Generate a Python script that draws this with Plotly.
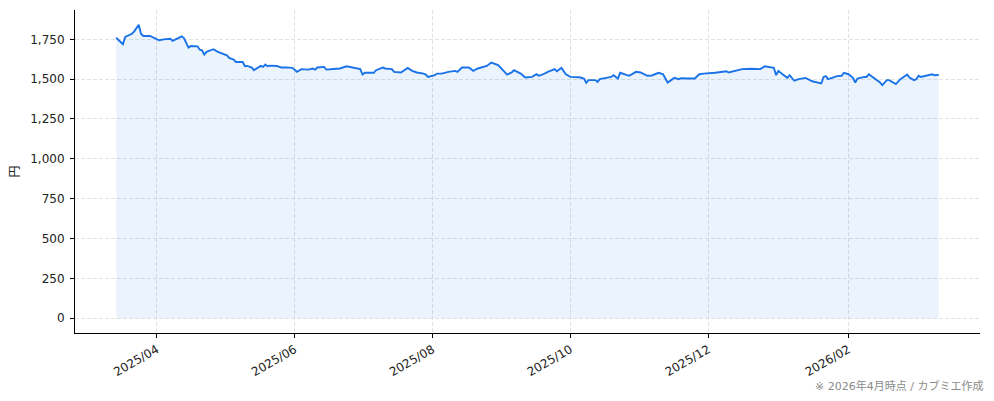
import plotly.graph_objects as go

# 株価推移（終値, 円）: 画像から読み取った折れ点
dates = [
    "2025-03-14", "2025-03-16", "2025-03-17", "2025-03-18", "2025-03-21", "2025-03-22",
    "2025-03-24", "2025-03-25", "2025-03-26", "2025-03-29", "2025-03-31", "2025-04-02",
    "2025-04-04", "2025-04-07", "2025-04-08", "2025-04-10", "2025-04-12", "2025-04-13",
    "2025-04-15", "2025-04-16", "2025-04-19", "2025-04-20", "2025-04-21", "2025-04-22",
    "2025-04-23", "2025-04-26", "2025-04-27", "2025-04-28", "2025-05-02", "2025-05-03",
    "2025-05-05", "2025-05-06", "2025-05-09", "2025-05-10", "2025-05-11", "2025-05-13",
    "2025-05-14", "2025-05-16", "2025-05-17", "2025-05-18", "2025-05-19", "2025-05-20",
    "2025-05-21", "2025-05-24", "2025-05-26", "2025-05-28", "2025-05-31", "2025-06-02",
    "2025-06-04", "2025-06-07", "2025-06-09", "2025-06-10", "2025-06-11", "2025-06-14",
    "2025-06-15", "2025-06-18", "2025-06-21", "2025-06-24", "2025-06-27", "2025-06-30",
    "2025-07-01", "2025-07-02", "2025-07-06", "2025-07-07", "2025-07-10", "2025-07-11",
    "2025-07-14", "2025-07-15", "2025-07-18", "2025-07-20", "2025-07-21", "2025-07-23",
    "2025-07-25", "2025-07-28", "2025-07-29", "2025-07-30", "2025-08-02", "2025-08-03",
    "2025-08-05", "2025-08-08", "2025-08-11", "2025-08-12", "2025-08-14", "2025-08-16",
    "2025-08-17", "2025-08-19", "2025-08-21", "2025-08-25", "2025-08-27", "2025-08-30",
    "2025-09-01", "2025-09-03", "2025-09-05", "2025-09-06", "2025-09-09", "2025-09-11",
    "2025-09-14", "2025-09-16", "2025-09-17", "2025-09-19", "2025-09-21", "2025-09-24",
    "2025-09-25", "2025-09-27", "2025-09-29", "2025-10-01", "2025-10-05", "2025-10-07",
    "2025-10-08", "2025-10-09", "2025-10-12", "2025-10-13", "2025-10-14", "2025-10-17",
    "2025-10-19", "2025-10-20", "2025-10-22", "2025-10-23", "2025-10-25", "2025-10-27",
    "2025-10-30", "2025-11-01", "2025-11-04", "2025-11-06", "2025-11-09", "2025-11-11",
    "2025-11-13", "2025-11-15", "2025-11-16", "2025-11-18", "2025-11-19", "2025-11-22",
    "2025-11-25", "2025-11-27", "2025-11-29", "2025-12-04", "2025-12-07", "2025-12-09",
    "2025-12-10", "2025-12-13", "2025-12-16", "2025-12-20", "2025-12-23", "2025-12-24",
    "2025-12-26", "2025-12-28", "2025-12-30", "2025-12-31", "2026-01-01", "2026-01-03",
    "2026-01-05", "2026-01-06", "2026-01-08", "2026-01-10", "2026-01-13", "2026-01-16",
    "2026-01-18", "2026-01-20", "2026-01-21", "2026-01-22", "2026-01-23", "2026-01-25",
    "2026-01-27", "2026-01-29", "2026-01-30", "2026-02-01", "2026-02-03", "2026-02-04",
    "2026-02-05", "2026-02-08", "2026-02-09", "2026-02-10", "2026-02-13", "2026-02-15",
    "2026-02-16", "2026-02-18", "2026-02-19", "2026-02-22", "2026-02-24", "2026-02-27",
    "2026-02-28", "2026-03-02", "2026-03-03", "2026-03-04", "2026-03-05", "2026-03-07",
    "2026-03-09", "2026-03-10", "2026-03-11", "2026-03-13",
]
prices = [
    1760, 1733, 1719, 1765, 1785, 1800,
    1842, 1785, 1771, 1771, 1760, 1744,
    1750, 1754, 1740, 1754, 1769, 1758,
    1698, 1708, 1706, 1685, 1681, 1654,
    1671, 1688, 1681, 1671, 1650, 1633,
    1623, 1608, 1608, 1581, 1583, 1573,
    1556, 1573, 1583, 1577, 1592, 1581,
    1585, 1583, 1573, 1574, 1571, 1546,
    1563, 1560, 1567, 1560, 1573, 1577,
    1560, 1564, 1567, 1581, 1571, 1563,
    1529, 1540, 1540, 1556, 1573, 1567,
    1563, 1546, 1542, 1560, 1571, 1552,
    1542, 1535, 1529, 1514, 1525, 1535,
    1535, 1546, 1552, 1546, 1573, 1573,
    1573, 1552, 1567, 1583, 1604, 1588,
    1560, 1529, 1542, 1556, 1535, 1510,
    1514, 1531, 1521, 1531, 1546, 1563,
    1550, 1571, 1531, 1514, 1512, 1504,
    1477, 1494, 1494, 1483, 1500, 1508,
    1514, 1525, 1504, 1540, 1531, 1521,
    1546, 1542, 1521, 1523, 1540, 1531,
    1479, 1500, 1508, 1500, 1506, 1504,
    1504, 1531, 1535, 1540, 1546, 1550,
    1542, 1552, 1563, 1565, 1567, 1563,
    1581, 1577, 1571, 1525, 1552, 1529,
    1508, 1525, 1490, 1500, 1508, 1487,
    1479, 1473, 1514, 1519, 1500, 1510,
    1519, 1521, 1540, 1531, 1508, 1479,
    1504, 1514, 1514, 1531, 1500, 1479,
    1463, 1494, 1494, 1469, 1500, 1529,
    1510, 1494, 1500, 1521, 1514, 1521,
    1525, 1531, 1525, 1527,
]

y_ticks = [0, 250, 500, 750, 1000, 1250, 1500, 1750]
note_text = "※ 2026年4月時点 / カブミエ作成"

LINE_COLOR = "#1a73e8"
GRID_COLOR = "#e2e2e2"
FONT = "DejaVu Sans, Noto Sans CJK JP, sans-serif"

fig = go.Figure()

fig.add_trace(go.Scatter(
    x=dates, y=prices, mode="lines",
    line=dict(color=LINE_COLOR, width=1.9),
    fill="tozeroy", fillcolor="rgba(26, 115, 232, 0.085)",
    hovertemplate="%{x|%Y/%m/%d}<br>%{y:,.0f}円<extra></extra>",
    showlegend=False,
))

fig.add_annotation(
    text=note_text, xref="paper", yref="paper",
    x=1.0055, y=-0.163, xanchor="right", yanchor="middle",
    showarrow=False, font=dict(size=11, color="#8a8a8a", family=FONT),
)

# ページ本体の余白 (8px) を差し引いたサイズ
fig.update_layout(
    width=986, height=393,
    margin=dict(l=67, r=14, t=2, b=68),
    paper_bgcolor="white", plot_bgcolor="white",
    font=dict(family=FONT, size=12, color="#222222"),
)

fig.update_xaxes(
    type="date", range=["2025-02-23 19:00", "2026-03-31 05:00"],
    tick0="2025-04-01", dtick="M2", tickformat="%Y/%m", tickangle=-30,
    showline=True, linecolor="black", linewidth=1,
    ticks="outside", ticklen=4, tickcolor="black",
    showgrid=True, gridcolor=GRID_COLOR, gridwidth=0.8, griddash="4px,2px",
    zeroline=False, tickfont=dict(size=12, color="#222222"),
)
fig.update_yaxes(
    range=[-93, 1934], tickvals=y_ticks, tickformat=",",
    title=dict(text="円", standoff=9, font=dict(size=12, color="#222222")),
    showline=True, linecolor="black", linewidth=1,
    ticks="outside", ticklen=4, tickcolor="black", ticklabelstandoff=3,
    showgrid=True, gridcolor=GRID_COLOR, gridwidth=0.8, griddash="4px,2px",
    zeroline=False, tickfont=dict(size=12, color="#222222"),
)

fig.write_html("out.html")
